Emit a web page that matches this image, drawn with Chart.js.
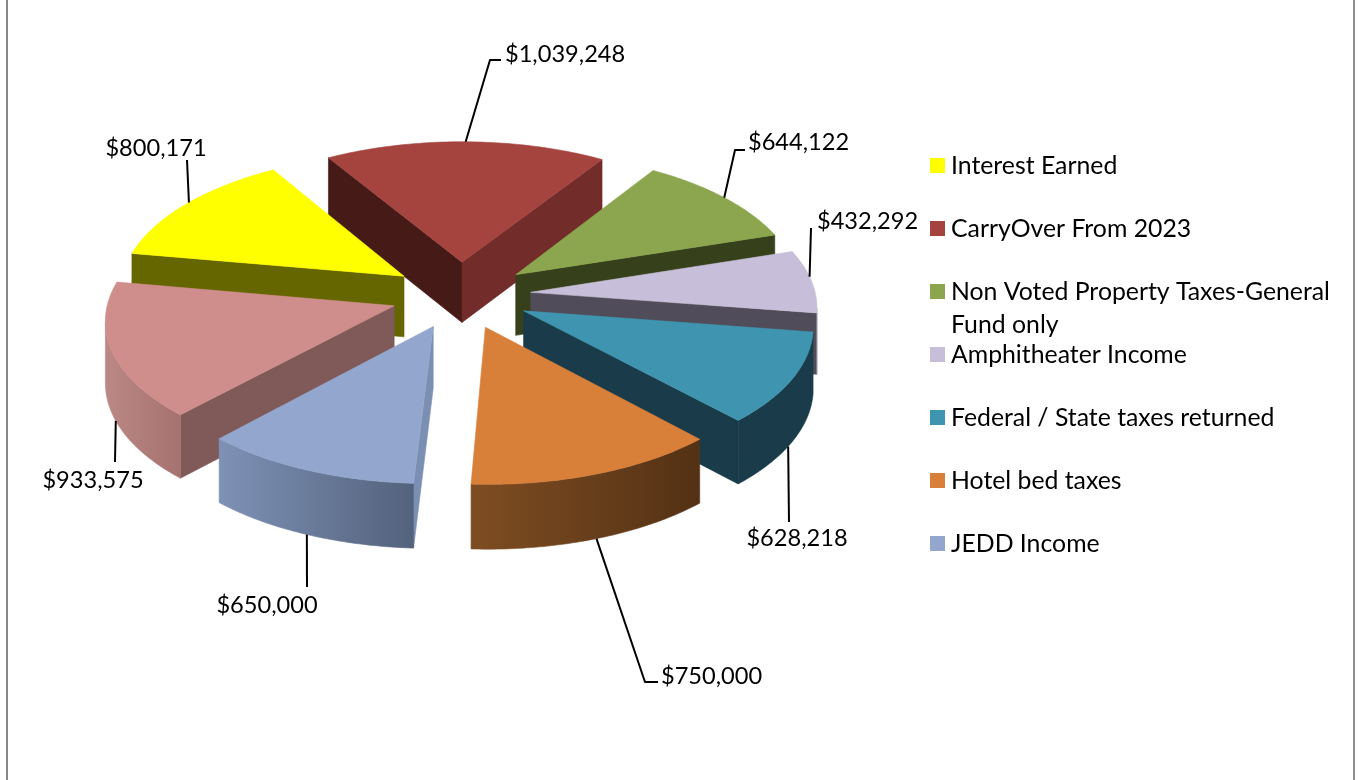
<!DOCTYPE html>
<html>
<head>
<meta charset="utf-8">
<title>Revenue pie</title>
<script src="https://cdn.jsdelivr.net/npm/chart.js@4"></script>
<style>
  html, body { margin: 0; padding: 0; background: #fff; }
  #wrap { position: relative; width: 1359px; height: 780px; overflow: hidden; }
  #wrap:before { content: ''; position: absolute; left: 6px; right: 4px; top: 0; bottom: 0;
    border-left: 2px solid #868686; border-right: 2px solid #8e8e8e; z-index: 2; pointer-events: none; }
</style>
</head>
<body>
<div id="wrap"><canvas id="revenueChart" width="1359" height="780"></canvas></div>
<script>
// Data
const categories = ['Interest Earned', 'CarryOver From 2023', 'Non Voted Property Taxes-General Fund only',
  'Amphitheater Income', 'Federal / State taxes returned', 'Hotel bed taxes', 'JEDD Income', ''];
const amounts = [800171, 1039248, 644122, 432292, 628218, 750000, 650000, 933575];

// Colours per slice
const topColors = ['#FFFF00', '#A5433F', '#8BA64E', '#C7BFD9', '#3F95AF', '#D8803A', '#93A7CE', '#CF8E8C'];
const startFaces = ['#666600', '#461A17', '#36401B', '#504C59', '#1A3C4A', '#563315', '#7B8FB3', '#805A58'];
const endFaces = ['#666600', '#722C2A', '#36401B', '#504C59', '#1A3C4A', '#7B4A20', '#54647F', '#805A58'];
const rimLeft = ['#666600', '#722C2A', '#36401B', '#8A8596', '#1A3C4A', '#7F4D22', '#7E92B6', '#BC8886'];
const rimRight = ['#666600', '#722C2A', '#36401B', '#8A8596', '#1A3C4A', '#533114', '#53627C', '#A67270'];

// Label layout: text position, text align, leader elbows, and where on the rim the leader starts
const labelPos = [[156, 148, 'center'], [505, 54, 'left'], [748, 142, 'left'], [817, 221, 'left'],
  [797, 538, 'center'], [661, 676, 'left'], [267, 605, 'center'], [93, 480, 'center']];
const leaderPts = [[[187, 160]], [[490, 60], [501, 60]], [[735, 150], [745, 150]], [[811, 228]],
  [[789, 522]], [[645, 682], [658, 682]], [[307, 587]], [[115, 462]]];
const leaderOnBase = [false, false, false, false, true, true, true, true];
const leaderNudge = [1, 0, 0, -2, 2, 0, 0, -3];

const legendRows = [165, 228, 291, 354, 417, 480, 543];

const VALUE_FONT = '23.6px Lato';
const LEGEND_FONT = '24.8px Lato';
const TILT = 0.48;       // squash of the pie plane
const PERSP = 0.09;      // front of the pie nearer than the back
const DEPTH = 61;

function money(v) { return '$' + v.toLocaleString('en-US'); }

function wrapLegend(text) {
  return text === categories[2] ? ['Non Voted Property Taxes-General', 'Fund only'] : [text];
}

const pie3d = {
  id: 'pie3d',
  beforeDatasetDraw(chart, args) {
    const ctx = chart.ctx;
    const arcs = args.meta.data;

    function pt(el, a, base) {
      const R = el.outerRadius;
      const mid = (el.startAngle + el.endAngle) / 2;
      const e = el.options.offset;
      const u = (a === null ? 0 : R * Math.cos(a)) + e * Math.cos(mid);
      const v = (a === null ? 0 : R * Math.sin(a)) + e * Math.sin(mid);
      const s = 1 / (1 - PERSP * v / R);
      return {
        x: el.x + u * s,
        y: el.y + TILT * v * s + (base ? DEPTH * (1 + 0.5 * (s - 1)) : 0)
      };
    }

    function fillPoly(pts, fill) {
      ctx.beginPath();
      pts.forEach((p, i) => i ? ctx.lineTo(p.x, p.y) : ctx.moveTo(p.x, p.y));
      ctx.closePath();
      ctx.fillStyle = fill;
      ctx.fill();
      // hairline in the same paint hides the seams between faces
      ctx.strokeStyle = fill;
      ctx.lineWidth = 0.6;
      ctx.stroke();
    }

    function area(pts) {
      let sum = 0;
      pts.forEach((p, i) => {
        const q = pts[(i + 1) % pts.length];
        sum += p.x * q.y - q.x * p.y;
      });
      return sum;
    }

    // back to front
    const order = arcs.map((el, i) => i).sort((a, b) => {
      const ma = (arcs[a].startAngle + arcs[a].endAngle) / 2;
      const mb = (arcs[b].startAngle + arcs[b].endAngle) / 2;
      return Math.sin(ma) - Math.sin(mb);
    });

    ctx.save();
    ctx.lineJoin = 'round';
    order.forEach(i => {
      const el = arcs[i];
      const steps = 60;
      const angles = [];
      for (let k = 0; k <= steps; k++) {
        angles.push(el.startAngle + (el.endAngle - el.startAngle) * k / steps);
      }

      // the cut faces, only where they turn towards the viewer
      const faceAt = a => [pt(el, null, false), pt(el, a, false), pt(el, a, true), pt(el, null, true)];
      const startFace = faceAt(el.startAngle);
      const endFace = faceAt(el.endAngle);
      if (area(startFace) < 0) fillPoly(startFace, startFaces[i]);
      if (area(endFace) > 0) fillPoly(endFace, endFaces[i]);

      // the part of the rim that faces the viewer
      const top = angles.map(a => pt(el, a, false));
      const front = angles.filter((a, k) => {
        const j = Math.min(k + 1, steps);
        const h = Math.max(k - 1, 0);
        return top[j].x < top[h].x;
      });
      if (front.length > 1) {
        const upper = front.map(a => pt(el, a, false));
        const lower = front.map(a => pt(el, a, true)).reverse();
        const xs = upper.map(p => p.x);
        const g = ctx.createLinearGradient(Math.min(...xs), 0, Math.max(...xs), 0);
        g.addColorStop(0, rimLeft[i]);
        g.addColorStop(1, rimRight[i]);
        fillPoly(upper.concat(lower), g);
      }

      // top of the slice
      fillPoly([pt(el, null, false)].concat(top), topColors[i]);
    });

    // leaders and value labels
    ctx.strokeStyle = '#000';
    ctx.lineWidth = 2;
    ctx.textBaseline = 'middle';
    ctx.font = VALUE_FONT;
    arcs.forEach((el, i) => {
      const mid = (el.startAngle + el.endAngle) / 2 + leaderNudge[i] * Math.PI / 180;
      const start = pt(el, mid, leaderOnBase[i]);
      ctx.beginPath();
      ctx.moveTo(start.x, start.y);
      leaderPts[i].forEach(p => ctx.lineTo(p[0], p[1]));
      ctx.stroke();
      ctx.fillStyle = '#000';
      ctx.textAlign = labelPos[i][2];
      ctx.fillText(money(amounts[i]), labelPos[i][0], labelPos[i][1]);
    });

    // legend, the last slice has no entry
    ctx.font = LEGEND_FONT;
    ctx.textAlign = 'left';
    legendRows.forEach((y, i) => {
      ctx.fillStyle = topColors[i];
      ctx.fillRect(930, y - 7, 15, 15);
      ctx.fillStyle = '#000';
      wrapLegend(categories[i]).forEach((line, n) => ctx.fillText(line, 951, y + 1 + n * 33));
    });
    ctx.restore();
    return false;
  }
};

new Chart(document.getElementById('revenueChart'), {
  type: 'pie',
  data: {
    labels: categories,
    datasets: [{
      data: amounts,
      backgroundColor: topColors,
      borderWidth: 0,
      offset: 70
    }]
  },
  options: {
    responsive: false,
    animation: false,
    rotation: -80,
    radius: 285,
    layout: { padding: { left: 0, top: 0, right: 437, bottom: 190 } },
    plugins: { legend: { display: false }, tooltip: { enabled: false } }
  },
  plugins: [pie3d]
});
</script>
</body>
</html>
